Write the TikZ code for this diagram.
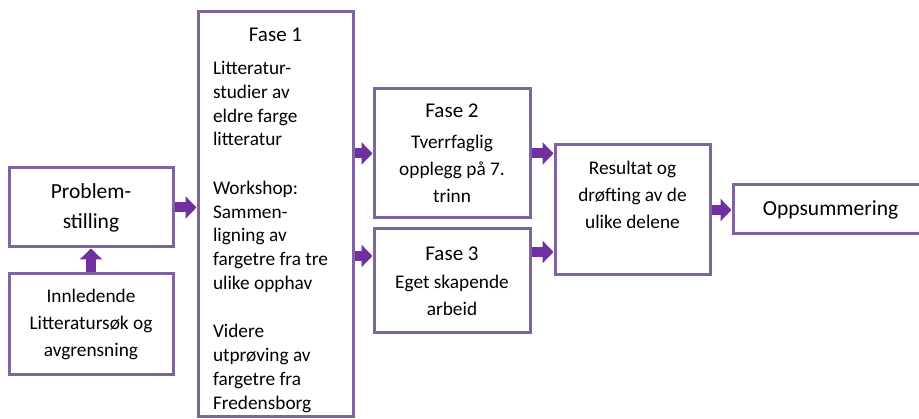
\documentclass[tikz,border=0pt]{standalone}
\usepackage{fontspec}
\setmainfont{Carlito}
\usetikzlibrary{arrows.meta}
\definecolor{boxline}{HTML}{8064A2}
\definecolor{arrowfill}{HTML}{7030A0}
\pgfdeclarelayer{back}
\pgfsetlayers{back,main}

\begin{document}
\begin{tikzpicture}[line join=miter,x=1pt,y=1pt,
  box/.style={draw=boxline,line width=3pt,fill=white,inner sep=0pt},
  flow/.style={draw=arrowfill,line width=10pt,line cap=butt,-{Triangle[length=11pt,width=22pt]}},
  bigtext/.style={font=\fontsize{21.5}{30}\selectfont,align=center},
  smalltext/.style={font=\fontsize{19.3}{27}\selectfont,align=center}]
\clip(0,0) rectangle (919,419);
% boxes
\node[box,bigtext,minimum width=164,minimum height=79] (prob) at (91,211.5) {Problem-\\stilling};
\node[box,smalltext,minimum width=164,minimum height=101] (innl) at (91,94.5) {Innledende\\Litteratursøk og\\avgrensning};
\node[box,minimum width=155,minimum height=405,text width=125,align=flush left,font=\fontsize{19.3}{23.7}\selectfont] (fase1) at (275.5,204.5)
  {\makebox[125pt]{\rule{0pt}{25pt}\fontsize{21}{23.7}\selectfont Fase 1}\\[9.3pt]
   Litteratur-\\studier av\\eldre farge\\litteratur\\[25pt]
   Workshop:\\Sammen-\\ligning av\\fargetre fra tre\\ulike opphav\\[25pt]
   Videre\\utprøving av\\fargetre fra\\Fredensborg};
\node[box,smalltext,minimum width=156,minimum height=129] (fase2) at (452,265.5)
  {{\fontsize{21}{27}\selectfont Fase 2}\\[4pt]Tverrfaglig\\opplegg på 7.\\trinn};
\node[box,smalltext,minimum width=156,minimum height=104] (fase3) at (452,138)
  {{\fontsize{21}{27}\selectfont Fase 3}\\[1pt]Eget skapende\\arbeid};
\node[box,minimum width=155,minimum height=130] (res) at (632.5,209) {};
\node[smalltext] (restxt) at ([yshift=15]res.center) {Resultat og\\drøfting av de\\ulike delene};
\node[box,bigtext,minimum width=195,minimum height=49] (opps) at (830.5,209.5) {Oppsummering};
% arrows
\begin{pgfonlayer}{back}
\draw[flow] (innl) -- (prob);
\draw[flow] (prob.east) -- (prob.east -| fase1.west);
\draw[flow] (fase2.west -| fase1.east) -- (fase2.west);
\draw[flow] ([yshift=25]fase3.west -| fase1.east) -- ([yshift=25]fase3.west);
\draw[flow] (fase2.east) -- (fase2.east -| res.west);
\draw[flow] ([yshift=29]fase3.east) -- ([yshift=29]fase3.east -| res.west);
\draw[flow] (res.east) -- (res.east -| opps.west);
\end{pgfonlayer}
\end{tikzpicture}
\end{document}
